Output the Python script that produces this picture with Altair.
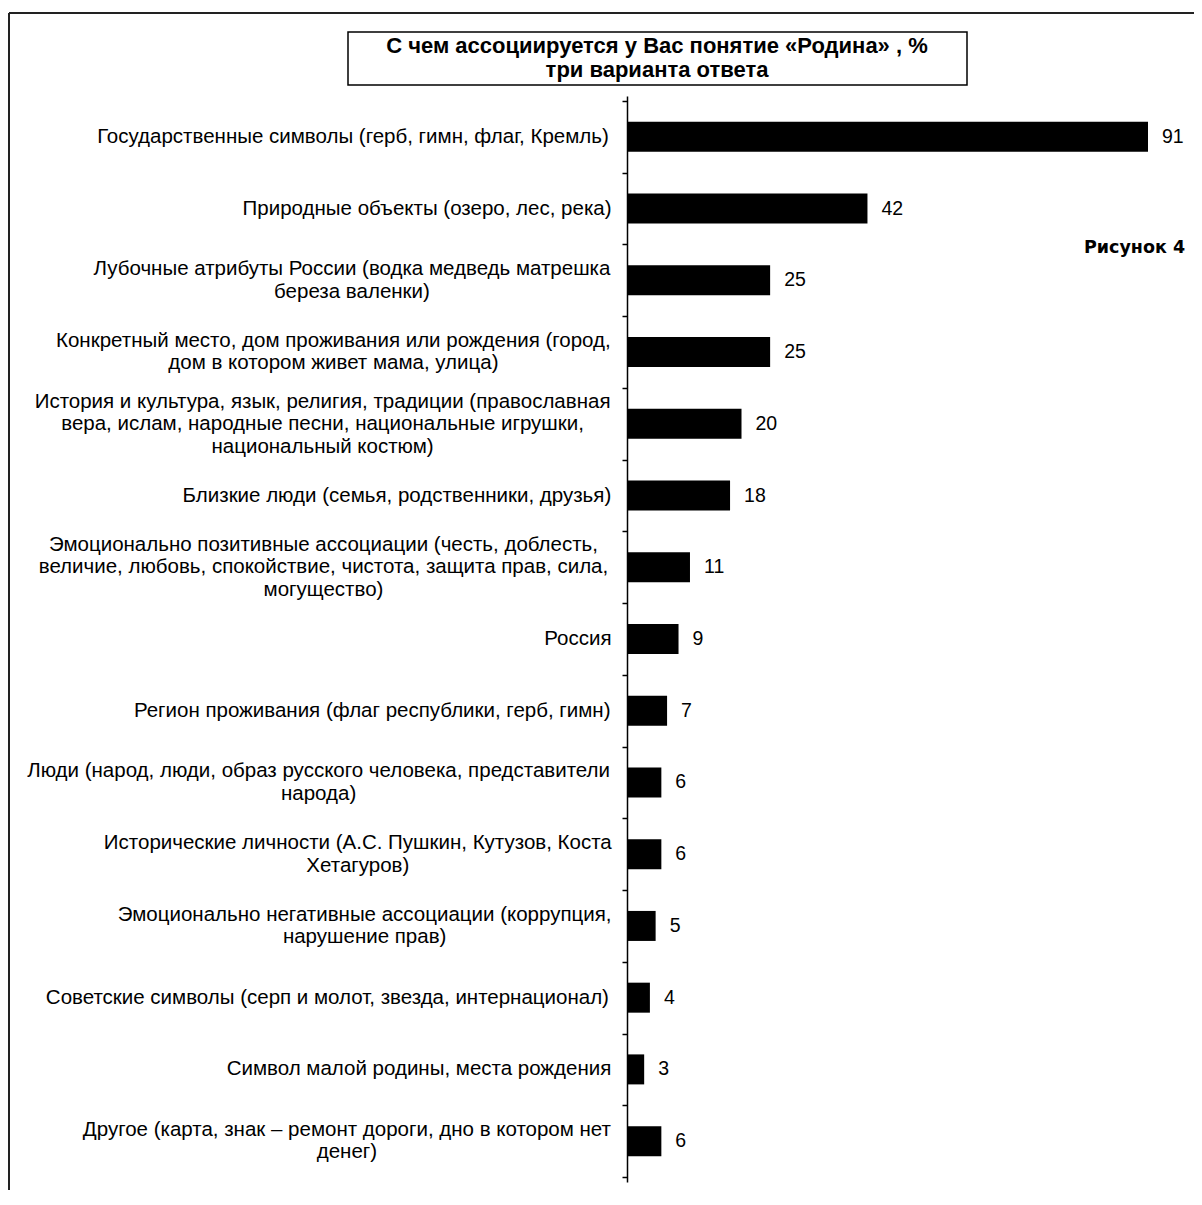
import altair as alt
import pandas as pd

categories = [
    "Государственные символы (герб, гимн, флаг, Кремль)",
    "Природные объекты (озеро, лес, река)",
    "Лубочные атрибуты России (водка медведь матрешка\nбереза валенки)",
    "Конкретный место, дом проживания или рождения (город,\nдом в котором живет мама, улица)",
    "История и культура, язык, религия, традиции (православная\nвера, ислам, народные песни, национальные игрушки,\nнациональный костюм)",
    "Близкие люди (семья, родственники, друзья)",
    "Эмоционально позитивные ассоциации (честь, доблесть,\nвеличие,  любовь, спокойствие, чистота, защита прав, сила,\nмогущество)",
    "Россия",
    "Регион проживания (флаг республики, герб, гимн)",
    "Люди (народ, люди, образ русского человека, представители\nнарода)",
    "Исторические личности (А.С. Пушкин, Кутузов, Коста\nХетагуров)",
    "Эмоционально негативные ассоциации (коррупция,\nнарушение прав)",
    "Советские символы (серп и молот, звезда, интернационал)",
    "Символ малой родины, места рождения",
    "Другое (карта, знак – ремонт дороги, дно в котором нет\nденег)",
]
values = [91, 42, 25, 25, 20, 18, 11, 9, 7, 6, 6, 5, 4, 3, 6]
title_lines = ["С чем ассоциируется у Вас понятие «Родина» , %", "три варианта ответа"]
figure_label = "Рисунок 4"

LABEL_FS = 20.5
LABEL_LH = 22.5
LABEL_RIGHT = -15  # right edge of category labels, relative to the axis line

# approximate Arial / Liberation Sans advance widths (1/1000 em)
WID = {
    "а": 556, "б": 573, "в": 531, "г": 365, "д": 583, "е": 556, "ё": 556, "ж": 669,
    "з": 458, "и": 559, "й": 559, "к": 438, "л": 583, "м": 688, "н": 552, "о": 556,
    "п": 542, "р": 556, "с": 500, "т": 458, "у": 500, "ф": 823, "х": 500, "ц": 573,
    "ч": 521, "ш": 802, "щ": 823, "ъ": 625, "ы": 719, "ь": 521, "э": 510, "ю": 750,
    "я": 542,
    "А": 667, "Б": 656, "В": 667, "Г": 542, "Д": 677, "Е": 667, "Ж": 923, "З": 604,
    "И": 719, "К": 583, "Л": 656, "М": 833, "Н": 722, "О": 778, "П": 719, "Р": 667,
    "С": 722, "Т": 610, "У": 635, "Ф": 760, "Х": 667, "Ц": 740, "Ч": 667, "Ш": 917,
    "Э": 719, "Ю": 1010, "Я": 719,
    " ": 278, ",": 278, ".": 278, "(": 333, ")": 333, "–": 556, "-": 333,
}


def text_width(s, fs):
    return sum(WID.get(ch, 556) for ch in s) / 1000.0 * fs


n = len(categories)
PLOT_W = 521
PLOT_H = 1086
STEP = PLOT_H / n

rows = []
for i, (c, v) in enumerate(zip(categories, values)):
    lines = c.split("\n")
    w = max(text_width(l, LABEL_FS) for l in lines)
    rows.append({
        "cat": c,
        "value": v,
        "pos": i + 0.5,
        # first-line position so that the whole block is centred on the bar
        "lpos": i + 0.5 - (len(lines) - 1) * LABEL_LH / 2.0 / STEP,
        "lx": LABEL_RIGHT - w / 2.0,
    })
df = pd.DataFrame(rows)

xscale = alt.Scale(domain=[0, 91], nice=False, zero=True)
yscale = alt.Scale(domain=[0, n], reverse=True, nice=False, zero=False)

base = alt.Chart(df)

bars = base.mark_bar(color="black", size=30, orient="horizontal").encode(
    x=alt.X("value:Q", scale=xscale, axis=None),
    y=alt.Y(
        "pos:Q",
        scale=yscale,
        axis=alt.Axis(
            values=list(range(n + 1)),
            labels=False,
            title=None,
            grid=False,
            ticks=True,
            tickSize=5,
            tickColor="black",
            tickWidth=1.5,
            domainColor="black",
            domainWidth=1.5,
        ),
    ),
)

value_labels = base.mark_text(
    align="left", baseline="middle", dx=14, fontSize=19.5,
    font="Liberation Sans, Arial", color="black",
).encode(
    x=alt.X("value:Q", scale=xscale),
    y=alt.Y("pos:Q", scale=yscale),
    text=alt.Text("value:Q"),
)

cat_labels = base.mark_text(
    align="center", baseline="middle", lineBreak="\n", lineHeight=LABEL_LH,
    fontSize=LABEL_FS, font="Liberation Sans, Arial", color="black",
).encode(
    x=alt.X("lx:Q", scale=None),
    y=alt.Y("lpos:Q", scale=yscale),
    text="cat:N",
)

one = alt.Chart(pd.DataFrame({"k": [0]}))

title_box = one.mark_rect(fill="white", stroke="black", strokeWidth=1.5).encode(
    x=alt.value(-279), x2=alt.value(340), y=alt.value(-64), y2=alt.value(-11)
)
title_text = one.mark_text(
    align="center", baseline="middle", lineBreak="\n", lineHeight=24,
    fontSize=22, fontWeight="bold", font="Liberation Sans, Arial", color="black",
).encode(x=alt.value(30), y=alt.value(-50), text=alt.value("\n".join(title_lines)))

fig_text = one.mark_text(
    align="left", baseline="middle", fontSize=17.5, fontWeight="bold",
    font="DejaVu Sans", color="black",
).encode(x=alt.value(457), y=alt.value(152), text=alt.value(figure_label))

frame_top = one.mark_rule(color="#222222", strokeWidth=2).encode(
    x=alt.value(-618), x2=alt.value(620), y=alt.value(-83)
)
frame_left = one.mark_rule(color="#222222", strokeWidth=2).encode(
    x=alt.value(-618), y=alt.value(-83), y2=alt.value(PLOT_H + 20)
)

chart = alt.layer(
    frame_top, frame_left, bars, value_labels, cat_labels, title_box, title_text, fig_text
).properties(
    width=PLOT_W,
    height=PLOT_H,
    autosize=alt.AutoSizeParams(type="none"),
    padding={"left": 619, "top": 88, "right": 46, "bottom": 8},
).configure(background="white").configure_view(strokeWidth=0, strokeOpacity=0)

chart.save("out.html", embed_options={"renderer": "svg", "actions": False})
